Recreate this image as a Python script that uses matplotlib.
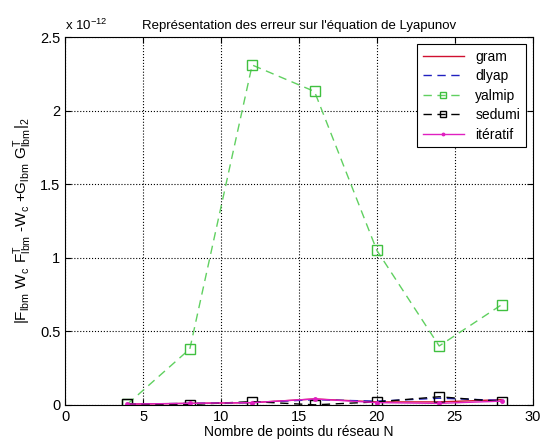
import numpy as np
import matplotlib
matplotlib.use('Agg')
import matplotlib.pyplot as plt

plt.rcParams['font.family'] = ['Liberation Sans', 'DejaVu Sans']
plt.rcParams['mathtext.fontset'] = 'custom'
plt.rcParams['mathtext.rm'] = 'Liberation Sans'
plt.rcParams['mathtext.default'] = 'regular'

# values in units of 1e-12
N = [4, 8, 12, 16, 20, 24, 28]
gram = [0.005, 0.010, 0.015, 0.040, 0.020, 0.020, 0.035]
dlyap = [0.005, 0.010, 0.015, 0.035, 0.025, 0.045, 0.030]
yalmip = [0.005, 0.38, 2.31, 2.13, 1.05, 0.40, 0.68]
sedumi = [0.005, 0.002, 0.022, 0.000, 0.020, 0.055, 0.022]
iteratif = [0.005, 0.010, 0.015, 0.040, 0.015, 0.010, 0.025]

fig = plt.figure(figsize=(5.43, 4.41), dpi=100)
ax = fig.add_axes([0.12, 0.082, 0.861, 0.834])

ax.plot(N, gram, '-', color='#d01030', lw=1, label='gram')
ax.plot(N, dlyap, '--', color='#2020c0', lw=1, dashes=(6, 4), label='dlyap')
ax.plot(N, yalmip, '--', color='#60d060', lw=1, dashes=(6, 4), marker='s', ms=7,
        mfc='none', mec='#40c040', label='yalmip')
ax.plot(N, sedumi, '--', color='black', lw=1, dashes=(6, 4), marker='s', ms=7,
        mfc='none', mec='black', label='sedumi')
ax.plot(N, iteratif, '-', color='#e020c0', lw=1, marker='.', ms=5,
        label='itératif')

ax.set_xlim(0, 30)
ax.set_ylim(0, 2.5)
ax.set_xticks([0, 5, 10, 15, 20, 25, 30])
ax.set_yticks([0, 0.5, 1, 1.5, 2, 2.5])
ax.set_yticklabels(['0', '0.5', '1', '1.5', '2', '2.5'])
ax.tick_params(direction='in', top=True, right=True, labelsize=10.5, length=4)
ax.grid(True, linestyle=':', color='black', lw=0.8)

ax.set_title("Représentation des erreur sur l'équation de Lyapunov", fontsize=9.5)
ax.set_xlabel('Nombre de points du réseau N', fontsize=10, labelpad=1)
ax.set_ylabel(r'$|F_{lbm}\ W_c\ F_{lbm}^T$ -$W_c$ +$G_{lbm}\ G_{lbm}^T|_2$',
              fontsize=11, labelpad=4)
fig.text(0.12, 0.925, r'x 10$^{-12}$', fontsize=9.5, ha='left', va='bottom')

leg = ax.legend(loc='upper right', fontsize=10, fancybox=False, framealpha=1,
                edgecolor='black', borderaxespad=0.5, handlelength=3.0,
                labelspacing=0.4, markerscale=0.7)
leg.get_frame().set_linewidth(0.8)

fig.savefig('out.png', dpi=100)
